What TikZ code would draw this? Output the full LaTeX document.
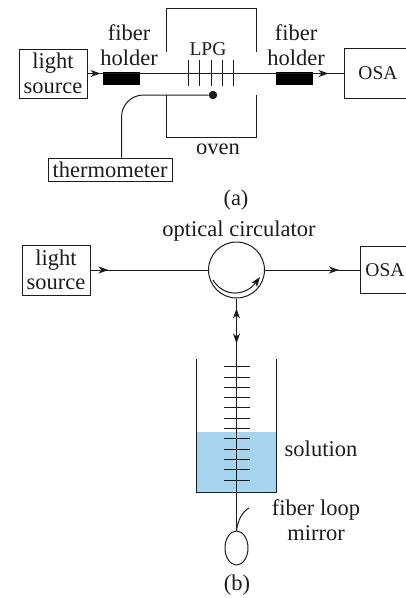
\documentclass[tikz,border=0pt]{standalone}
\usepackage{xcolor}
\usepackage{fontspec}
\setmainfont{Liberation Serif}
\usetikzlibrary{shapes.geometric,arrows.meta,decorations.markings}
\definecolor{ink}{HTML}{1C1C1C}
\definecolor{water}{HTML}{A6D4EF}

\begin{document}
\begin{tikzpicture}[x=1pt,y=-1pt,font=\fontsize{22.5}{24.5}\selectfont,color=ink,
  box/.style={draw=ink,line width=1pt,align=center,inner sep=0pt},
  txt/.style={align=center,inner sep=0pt},
  caps/.style={font=\fontsize{19.5}{24}\selectfont},
  wire/.style={line width=1pt},
  head/.style={-{Stealth[length=10pt,width=7pt,inset=3pt]}},
  flow/.style={postaction={decorate,decoration={markings,mark=at position #1 with {\arrow{Stealth[length=10pt,width=7pt,inset=3pt]}}}}},
  flowback/.style={postaction={decorate,decoration={markings,mark=at position #1 with {\arrowreversed{Stealth[length=10pt,width=7pt,inset=3pt]}}}}},
  holder/.style={fill=black,minimum width=37pt,minimum height=13pt,inner sep=0pt}]
\useasboundingbox (0,0) rectangle (406,598);
% (a)
\node[box,minimum width=68pt,minimum height=49pt] (srca) at (53,73.5) {light\\source};
\node[box,caps,minimum width=68pt,minimum height=50pt] (osaa) at (378,73.5) {OSA};
\node[holder] (holdl) at (121.5,78.5) {};
\node[holder] (holdr) at (294.5,78.5) {};
\draw[wire,flow=13pt,flow=241pt] (srca.east)--(osaa.west);
\draw[line width=1.3pt] (holdl.east|-srca.east)--(holdr.west|-srca.east);
\foreach \gx in {188,199.5,211,222,233.5} \draw[wire] (\gx,60)--(\gx,86);
\draw[wire] (166,52)--(166,8)--(256,8)--(256,52);
\draw[wire] (166,95)--(166,137)--(256,137)--(256,95);
\node[box,minimum width=124pt,minimum height=23pt] (therm) at (110,169.5) {thermometer};
\node[circle,fill=ink,minimum size=8.5pt,inner sep=0pt] (probe) at (213,95) {};
\draw[wire,rounded corners=22pt] ([xshift=11.5pt]therm.north)|-(probe);
\node[txt] (fibl) at (129,45) {fiber\\holder};
\node[txt] (fibr) at (296,45) {fiber\\holder};
\node[txt,caps] (lpg) at (208,49) {LPG};
\node[txt] (oven) at (218,149) {oven};
\node[txt] (capa) at (236,200) {(a)};
% (b)
\node[box,minimum width=68pt,minimum height=50pt] (srcb) at (56,270) {light\\source};
\node[box,caps,minimum width=50pt,minimum height=47pt] (osab) at (385,270) {OSA};
\node[circle,draw=ink,line width=1pt,minimum size=56pt,inner sep=0pt] (circ) at (236.5,270) {};
\node[ellipse,draw=ink,line width=1pt,minimum width=23pt,minimum height=34pt,inner sep=0pt] (loop) at (236.5,548) {};
\node[txt] (opt) at (239,231) {optical circulator};
\draw[wire,flow=18pt] (srcb)--(circ);
\draw[wire,flow=74pt] (circ)--(osab);
\draw[head,wire] (213,280) .. controls (224,298) and (246,296) .. (260,277);
\fill[water] (196.5,432) rectangle (276,492.5);
\draw[wire,flowback=10pt,flow=45pt] (circ)--(loop);
\foreach \ty in {0,...,11} \draw[wire] (224,366.7+10.3*\ty)--(250,366.7+10.3*\ty);
\draw[wire] (196.5,359)--(196.5,492.5)--(276,492.5)--(276,359);
\draw[wire] (loop.north) .. controls (238,520) and (242,512) .. (249,508);
\node[txt] (sol) at (321,449) {solution};
\node[txt] (mirr) at (316,520) {fiber loop\\mirror};
\node[txt] (capb) at (237,585) {(b)};
\end{tikzpicture}
\end{document}
